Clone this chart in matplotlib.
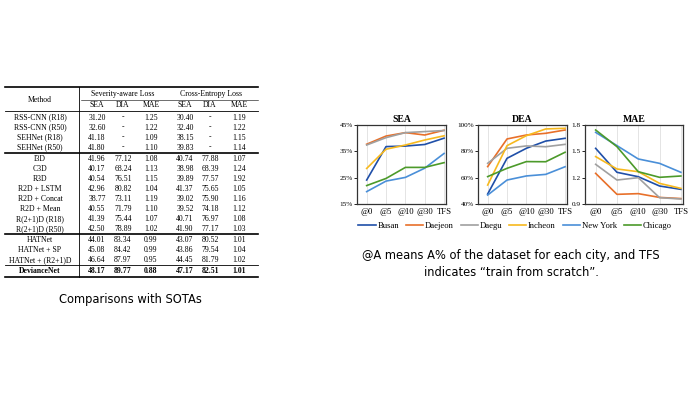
import matplotlib
matplotlib.use("Agg")
import matplotlib.pyplot as plt

# ---- table data ----
methods = ["RSS-CNN (R18)", "RSS-CNN (R50)", "SEHNet (R18)", "SEHNet (R50)",
           "I3D", "C3D", "R3D", "R2D + LSTM", "R2D + Concat", "R2D + Mean",
           "R(2+1)D (R18)", "R(2+1)D (R50)",
           "HATNet", "HATNet + SP", "HATNet + (R2+1)D", "DevianceNet"]
sa_sea = ["31.20", "32.60", "41.18", "41.80", "41.96", "40.17", "40.54", "42.96",
          "38.77", "40.55", "41.39", "42.50", "44.01", "45.08", "46.64", "48.17"]
sa_dia = ["-", "-", "-", "-", "77.12", "68.24", "76.51", "80.82",
          "73.11", "71.79", "75.44", "78.89", "83.34", "84.42", "87.97", "89.77"]
sa_mae = ["1.25", "1.22", "1.09", "1.10", "1.08", "1.13", "1.15", "1.04",
          "1.19", "1.10", "1.07", "1.02", "0.99", "0.99", "0.95", "0.88"]
ce_sea = ["30.40", "32.40", "38.15", "39.83", "40.74", "38.98", "39.89", "41.37",
          "39.02", "39.52", "40.71", "41.90", "43.07", "43.86", "44.45", "47.17"]
ce_dia = ["-", "-", "-", "-", "77.88", "68.39", "77.57", "75.65",
          "75.90", "74.18", "76.97", "77.17", "80.52", "79.54", "81.79", "82.51"]
ce_mae = ["1.19", "1.22", "1.15", "1.14", "1.07", "1.24", "1.92", "1.05",
          "1.16", "1.12", "1.08", "1.03", "1.01", "1.04", "1.02", "1.01"]

# ---- chart data ----
steps = ["@0", "@5", "@10", "@30", "TFS"]
cities = ["Busan", "Daejeon", "Daegu", "Incheon", "New York", "Chicago"]
colors = ["#1f4fa8", "#e8702a", "#a0a0a0", "#f7b91e", "#4a8fd8", "#4c9a2a"]

sea = {
    "Busan":    [24.1, 36.8, 37.0, 37.6, 40.0],
    "Daejeon":  [37.7, 40.8, 42.1, 41.2, 43.0],
    "Daegu":    [37.4, 40.2, 42.1, 42.5, 42.9],
    "Incheon":  [28.5, 35.8, 37.4, 39.3, 40.9],
    "New York": [19.7, 23.7, 25.1, 28.6, 34.2],
    "Chicago":  [22.0, 24.7, 28.9, 28.9, 30.7],
}
dea = {
    "Busan":    [47.6, 74.7, 82.3, 87.8, 89.9],
    "Daejeon":  [68.4, 89.4, 92.4, 93.7, 96.2],
    "Daegu":    [70.9, 82.3, 84.1, 83.5, 85.3],
    "Incheon":  [54.4, 84.3, 91.9, 97.0, 97.5],
    "New York": [46.8, 58.2, 61.3, 62.5, 68.3],
    "Chicago":  [60.8, 67.1, 72.2, 72.1, 79.3],
}
mae = {
    "Busan":    [1.534, 1.261, 1.211, 1.105, 1.067],
    "Daejeon":  [1.249, 1.010, 1.018, 0.975, 0.962],
    "Daegu":    [1.352, 1.173, 1.200, 0.972, 0.957],
    "Incheon":  [1.440, 1.299, 1.268, 1.135, 1.078],
    "New York": [1.716, 1.565, 1.413, 1.363, 1.261],
    "Chicago":  [1.743, 1.553, 1.268, 1.204, 1.219],
}

W, H = 697, 398
fig = plt.figure(figsize=(W / 100, H / 100), dpi=100)
serif = "Liberation Serif"

# ---- table, drawn in pixel coordinates ----
tab = fig.add_axes([0, 0, 1, 1])
tab.set_xlim(0, W)
tab.set_ylim(H, 0)
tab.axis("off")

fs = 5.6
col_x = [97, 123, 151, 185, 210, 239]
tab.text(40, 99.5, "Method", ha="center", va="center", family=serif, fontsize=fs)
tab.text(123, 94, "Severity-aware Loss", ha="center", va="center", family=serif, fontsize=fs)
tab.text(211, 94, "Cross-Entropy Loss", ha="center", va="center", family=serif, fontsize=fs)
for x, h in zip(col_x, ["SEA", "DIA", "MAE", "SEA", "DIA", "MAE"]):
    tab.text(x, 105, h, ha="center", va="center", family=serif, fontsize=fs)

row_y = []
y = 117.5
for i in range(len(methods)):
    row_y.append(y)
    y += 10.05
    if i in (3, 11, 14):
        y += 0.9

cols = [sa_sea, sa_dia, sa_mae, ce_sea, ce_dia, ce_mae]
for i, m in enumerate(methods):
    bold = "bold" if m == "DevianceNet" else "normal"
    tab.text(40, row_y[i], m, ha="center", va="center", family=serif,
             fontsize=fs, fontweight=bold)
    for x, c in zip(col_x, cols):
        tab.text(x, row_y[i], c[i], ha="center", va="center", family=serif,
                 fontsize=fs, fontweight=bold)

L, R = 5, 258
tab.plot([L, R], [87, 87], color="black", lw=1.2)
tab.plot([81, R], [99.5, 99.5], color="black", lw=0.4)
tab.plot([L, R], [110.5, 110.5], color="black", lw=0.6)
for a, b, lw in [(3, 4, 1.2), (11, 12, 1.2), (14, 15, 0.6)]:
    ym = (row_y[a] + row_y[b]) / 2
    tab.plot([L, R], [ym, ym], color="black", lw=lw)
yb = row_y[-1] + 6.5
tab.plot([L, R], [yb, yb], color="black", lw=1.2)
tab.plot([79, 79], [87, yb], color="black", lw=0.6)

tab.text(130, 299, "Comparisons with SOTAs", ha="center", va="center",
         family="DejaVu Sans", fontsize=8.3)
tab.text(511, 255, "@A means A% of the dataset for each city, and TFS",
         ha="center", va="center", family="DejaVu Sans", fontsize=8.3)
tab.text(511, 273, "indicates \u201ctrain from scratch\u201d.",
         ha="center", va="center", family="DejaVu Sans", fontsize=8.3)

# ---- line charts ----
def panel(left, right, data, title, ylim, yticks, ylabels):
    ax = fig.add_axes([left / W, 1 - 204 / H, (right - left) / W, 79 / H])
    x = range(len(steps))
    for city, col in zip(cities, colors):
        ax.plot(x, data[city], color=col, lw=1.2, label=city)
    ax.set_xlim(-0.5, 4.1)
    ax.set_ylim(*ylim)
    ax.set_xticks(list(x))
    ax.set_xticklabels(steps, family=serif, fontsize=6.2)
    ax.set_yticks(yticks)
    ax.set_yticklabels(ylabels, family=serif, fontsize=5.2)
    ax.grid(axis="x", color="#e4e4e4", lw=0.7)
    ax.tick_params(axis="x", length=0, pad=3)
    ax.tick_params(axis="y", length=2, width=0.6, pad=1)
    for s in ax.spines.values():
        s.set_color("#333333")
        s.set_linewidth(0.9)
    ax.set_title(title, family=serif, fontsize=7, fontweight="bold", pad=2)
    return ax

ax1 = panel(357, 446, sea, "SEA", (15, 45), [15, 25, 35, 45],
            ["15%", "25%", "35%", "45%"])
panel(478, 567, dea, "DEA", (40, 100), [40, 60, 80, 100],
      ["40%", "60%", "80%", "100%"])
panel(585, 683, mae, "MAE", (0.9, 1.8), [0.9, 1.2, 1.5, 1.8],
      ["0.9", "1.2", "1.5", "1.8"])

handles, labels = ax1.get_legend_handles_labels()
fig.legend(handles, labels, ncol=6, loc="center", bbox_to_anchor=(515 / W, 1 - 226 / H),
           frameon=False, prop={"family": serif, "size": 6.2}, handlelength=2.0,
           handletextpad=0.2, columnspacing=0.8, borderaxespad=0)

fig.savefig("out.png", dpi=100)
